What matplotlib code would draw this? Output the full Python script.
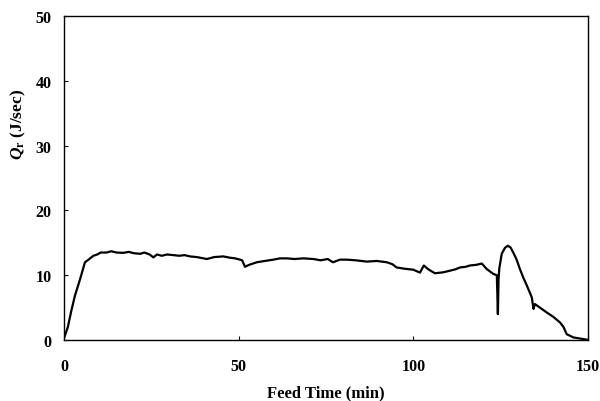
import matplotlib
matplotlib.use("Agg")
from matplotlib import pyplot as plt

# 读图得到的数据 (min, J/sec)
feed_time = [0, 0.4, 1.1, 2.0, 3.1, 4.6, 6.0, 7.0, 8.4, 9.5, 10.5, 12.2, 13.5, 15.0, 17.0,
             18.5, 20.0, 21.8, 23.0, 24.5, 25.6, 26.6, 28.0, 29.5, 31.3, 33.0, 34.5, 36.1,
             38.0, 40.9, 43.0, 45.6, 47.5, 49.0, 50.4, 51.0, 51.8, 53.0, 55.2, 57.5, 59.9,
             61.8, 63.8, 66.0, 68.5, 71.4, 73.5, 75.5, 77.0, 79.0, 81.0, 83.5, 86.7, 89.5,
             92.4, 94.0, 95.2, 97.5, 100.0, 101.9, 103.0, 104.3, 106.2, 108.6, 110.5, 112.0,
             113.4, 115.0, 116.2, 118.0, 119.6, 121.0, 122.9, 123.9, 124.2, 124.4, 124.6,
             125.3, 126.2, 127.0, 127.8, 128.6, 129.5, 130.5, 131.5, 132.5, 133.9, 134.4,
             134.8, 136.5, 138.2, 140.0, 142.0, 143.0, 143.9, 145.8, 147.5, 149.2, 150.0]
q_r = [0.3, 0.9, 2.0, 4.3, 6.8, 9.4, 12.0, 12.4, 13.0, 13.2, 13.5, 13.5, 13.7, 13.5, 13.45,
       13.6, 13.4, 13.3, 13.5, 13.2, 12.75, 13.2, 13.0, 13.2, 13.1, 13.0, 13.1, 12.9,
       12.8, 12.5, 12.8, 12.9, 12.7, 12.6, 12.4, 12.3, 11.3, 11.6, 12.0, 12.2, 12.4,
       12.6, 12.6, 12.5, 12.6, 12.5, 12.3, 12.5, 12.0, 12.4, 12.4, 12.3, 12.1, 12.2,
       12.0, 11.7, 11.2, 11.0, 10.85, 10.4, 11.5, 10.9, 10.3, 10.45, 10.7, 10.9,
       11.2, 11.3, 11.5, 11.6, 11.8, 10.96, 10.2, 10.0, 4.0, 9.5, 11.0,
       13.3, 14.2, 14.55, 14.3, 13.5, 12.5, 10.96, 9.6, 8.4, 6.6, 4.8,
       5.55, 4.9, 4.25, 3.6, 2.7, 2.0, 0.9, 0.4, 0.25, 0.1, 0.0]

x_ticks = [0, 50, 100, 150]
y_ticks = [0, 10, 20, 30, 40, 50]

plt.rcParams['font.family'] = ['Liberation Serif', 'DejaVu Serif']
plt.rcParams['font.weight'] = 'bold'
plt.rcParams['mathtext.fontset'] = 'custom'
plt.rcParams['mathtext.rm'] = 'Liberation Serif:bold'
plt.rcParams['mathtext.it'] = 'Liberation Serif:italic:bold'

fig = plt.figure(figsize=(6, 4.02), dpi=100)
ax = fig.add_axes([0.1067, 0.1517, 0.8733, 0.806])

ax.plot(feed_time, q_r, color="black", linewidth=1.6)

ax.set_xlim(0, 150)
ax.set_ylim(0, 50)
ax.set_xticks(x_ticks)
ax.set_yticks(y_ticks)
ax.tick_params(direction='in', length=3, width=0.8, labelsize=11.5)
ax.tick_params(axis='x', pad=13)
ax.tick_params(axis='y', pad=9)
for s in ax.spines.values():
    s.set_linewidth(1.0)

ax.set_xlabel("Feed Time (min)", fontsize=12, fontweight='bold')
ax.xaxis.set_label_coords(0.5, -0.137)
ax.set_ylabel(r"$\mathit{Q}_{\rm r}$ (J/sec)", fontsize=12.5, fontweight='bold')
ax.yaxis.set_label_coords(-0.068, 0.667)

plt.savefig("out.png", dpi=100)
